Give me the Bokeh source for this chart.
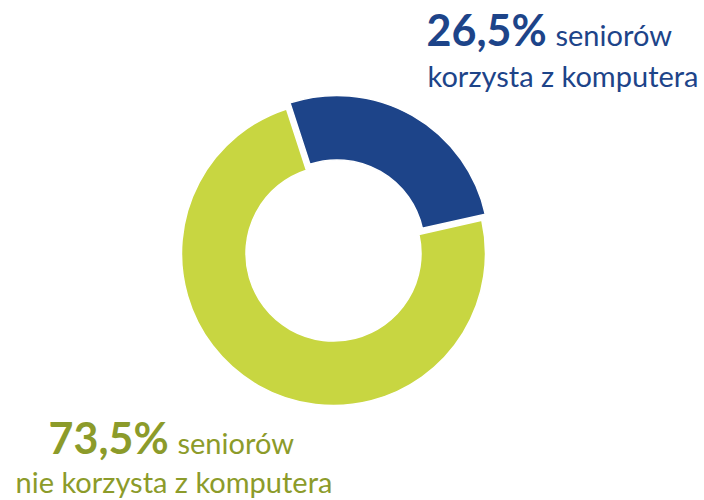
import numpy as np
from bokeh.plotting import figure
from bokeh.models import Range1d, ColumnDataSource
from bokeh.core.properties import value
from bokeh.embed import file_html
from bokeh.resources import INLINE

# ---- data ----
shares = [26.5, 73.5]
pct_labels = ["26,5%", "73,5%"]
word_labels = ["seniorów", "seniorów"]
line2_labels = ["korzysta z komputera", "nie korzysta z komputera"]

# ---- style ----
slice_colors = ["#1D4489", "#C8D641"]
text_colors = ["#1D4489", "#8C9B2A"]
explode = [7.0, 0.0]
start_deg = 108.0
W, H = 704, 500
cx, cy = 333.0, H - 253.0
r_in, r_out = 87.5, 152.0
FONT = "Lato"
BIG, SMALL = 43, 29
SHIFT = 0.4  # svg alphabetic-baseline correction (in em)

p = figure(width=W, height=H, x_range=Range1d(0, W), y_range=Range1d(0, H),
           output_backend="svg", toolbar_location=None, min_border=0,
           x_axis_location=None, y_axis_location=None)
p.grid.visible = False
p.outline_line_color = None
p.background_fill_color = "white"

tot = float(sum(shares))
cum = np.cumsum([0.0] + [s / tot * 360.0 for s in shares])
starts = [np.radians(start_deg - cum[i + 1]) for i in range(len(shares))]
ends = [np.radians(start_deg - cum[i]) for i in range(len(shares))]
mids = [(a + b) / 2 for a, b in zip(starts, ends)]
xs = [cx + e * np.cos(m) for e, m in zip(explode, mids)]
ys = [cy + e * np.sin(m) for e, m in zip(explode, mids)]

src = ColumnDataSource(dict(x=xs, y=ys, start=starts, end=ends, color=slice_colors))
p.annular_wedge(x="x", y="y", inner_radius=r_in, outer_radius=r_out,
                start_angle="start", end_angle="end", direction="anticlock",
                fill_color="color", line_color="white", line_width=1.5, source=src)

# label baselines in screen pixels (x, y from top)
pct_pos = [(426, 46), (48, 454)]
word_pos = [(555, 46), (177, 454)]
line2_pos = [(427, 87), (15, 493)]


def add_text(x, ybase, txt, size, color, style="normal"):
    p.text(x=[x], y=[H - (ybase - SHIFT * size)], text=[txt],
           text_font=value(FONT), text_font_style=style, text_font_size=f"{size}px",
           text_color=color, text_align="left", text_baseline="alphabetic")


for i in range(2):
    add_text(pct_pos[i][0], pct_pos[i][1], pct_labels[i], BIG, text_colors[i], "bold")
    add_text(word_pos[i][0], word_pos[i][1], word_labels[i], SMALL, text_colors[i])
    add_text(line2_pos[i][0], line2_pos[i][1], line2_labels[i], SMALL, text_colors[i])

open("out.html", "w").write(file_html(p, INLINE))
